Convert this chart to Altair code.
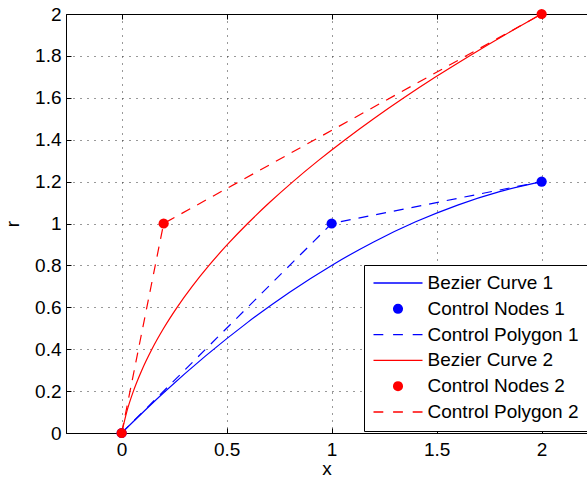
import altair as alt
import pandas as pd

FONT = "Liberation Sans"

# ---- data ----
curve1_x = [0.0, 0.2, 0.4, 0.6, 0.8, 1.0, 1.2, 1.4, 1.6, 1.8, 2.0]
curve1_y = [0.0, 0.192, 0.368, 0.528, 0.672, 0.8, 0.912, 1.008, 1.088, 1.152, 1.2]
nodes1_x = [0.0, 1.0, 2.0]
nodes1_y = [0.0, 1.0, 1.2]

curve2_x = [0.0, 0.024, 0.056, 0.096, 0.144, 0.2, 0.264, 0.336, 0.416, 0.504, 0.6,
            0.704, 0.816, 0.936, 1.064, 1.2, 1.344, 1.496, 1.656, 1.824, 2.0]
curve2_y = [0.0, 0.1, 0.2, 0.3, 0.4, 0.5, 0.6, 0.7, 0.8, 0.9, 1.0,
            1.1, 1.2, 1.3, 1.4, 1.5, 1.6, 1.7, 1.8, 1.9, 2.0]
nodes2_x = [0.0, 0.2, 2.0]
nodes2_y = [0.0, 1.0, 2.0]

series_names = ["Bezier Curve 1", "Control Nodes 1", "Control Polygon 1",
                "Bezier Curve 2", "Control Nodes 2", "Control Polygon 2"]
series_colors = ["#0000ff", "#0000ff", "#0000ff", "#ff0000", "#ff0000", "#ff0000"]

x_ticks = [0, 0.5, 1, 1.5, 2]
y_ticks = [0, 0.2, 0.4, 0.6, 0.8, 1, 1.2, 1.4, 1.6, 1.8, 2]

# legend glyphs (solid line, dot drawn as concentric rings, dashed line)
def ring(r):
    return f"M{-r},0A{r},{r},0,1,1,{r},0A{r},{r},0,1,1,{-r},0Z"
LINE = "M-1,0H1"
DOT = ring(0.18) + ring(0.135) + ring(0.09) + ring(0.045) + "M-0.02,0H0.02"
DASH = "M-1,0H-0.6M-0.2,0H0.2M0.6,0H1"
series_shapes = [LINE, DOT, DASH, LINE, DOT, DASH]

rows = []
def add(name, xs, ys):
    for i, (a, b) in enumerate(zip(xs, ys)):
        rows.append({"series": name, "x": a, "y": b, "order": i})

add(series_names[0], curve1_x, curve1_y)
add(series_names[1], nodes1_x, nodes1_y)
add(series_names[2], nodes1_x, nodes1_y)
add(series_names[3], curve2_x, curve2_y)
add(series_names[4], nodes2_x, nodes2_y)
add(series_names[5], nodes2_x, nodes2_y)
df = pd.DataFrame(rows)

xs = alt.Scale(domain=[-0.265, 2.216], nice=False, zero=False)
ys = alt.Scale(domain=[0, 2], nice=False, zero=False)

FS = 19
common_label = dict(labelFont=FONT, labelFontSize=FS, labelColor="black",
                    labelFlush=False, labelOverlap=False, format="~g")

GRID = dict(grid=True, gridColor="#333333", gridDash=[1, 6], gridWidth=1, gridOpacity=1)

ax_x_main = alt.Axis(orient="bottom", values=x_ticks, ticks=False,
                     domain=True, domainColor="black", domainWidth=1,
                     labelPadding=7, title="x", titleFont=FONT, titleFontSize=FS,
                     titleFontWeight="normal", titleColor="black", titlePadding=0,
                     **GRID, **common_label)
ax_y_main = alt.Axis(orient="left", values=y_ticks, ticks=False,
                     domain=True, domainColor="black", domainWidth=1,
                     labelPadding=5, title="r", titleFont=FONT, titleFontSize=FS,
                     titleFontWeight="normal", titleColor="black", titlePadding=12,
                     **GRID, **common_label)
ax_x_tick_bottom = alt.Axis(orient="bottom", offset=-5, values=x_ticks, grid=False,
                            ticks=True, tickSize=5, tickColor="black", tickWidth=1,
                            domain=False, labels=False, title=None)
ax_y_tick_left = alt.Axis(orient="left", offset=-5, values=y_ticks, grid=False,
                          ticks=True, tickSize=5, tickColor="black", tickWidth=1,
                          domain=False, labels=False, title=None)
ax_x_tick_top = alt.Axis(orient="top", offset=-5, values=x_ticks, grid=False,
                         ticks=True, tickSize=5, tickColor="black", tickWidth=1,
                         domain=False, labels=False, title=None)
ax_x_top_frame = alt.Axis(orient="top", values=x_ticks, grid=False, ticks=False,
                          domain=True, domainColor="black", domainWidth=1,
                          labels=False, title=None)

base = alt.Chart(df)

def sel(name):
    return base.transform_filter(alt.datum.series == name)

curve1 = sel(series_names[0]).mark_line(color="#0000ff", strokeWidth=1.2, interpolate="monotone").encode(
    x=alt.X("x:Q", scale=xs, axis=ax_x_main),
    y=alt.Y("y:Q", scale=ys, axis=ax_y_main),
    order="order:Q")
curve2 = sel(series_names[3]).mark_line(color="#ff0000", strokeWidth=1.2, interpolate="monotone").encode(
    x=alt.X("x:Q", scale=xs, axis=ax_x_tick_bottom),
    y=alt.Y("y:Q", scale=ys, axis=ax_y_tick_left),
    order="order:Q")
poly1 = sel(series_names[2]).mark_line(color="#0000ff", strokeWidth=1.2, strokeDash=[10, 8]).encode(
    x=alt.X("x:Q", scale=xs, axis=ax_x_tick_top),
    y=alt.Y("y:Q", scale=ys, axis=None),
    order="order:Q")
poly2 = sel(series_names[5]).mark_line(color="#ff0000", strokeWidth=1.2, strokeDash=[10, 8]).encode(
    x=alt.X("x:Q", scale=xs, axis=ax_x_top_frame),
    y=alt.Y("y:Q", scale=ys, axis=None),
    order="order:Q")
nodes1 = sel(series_names[1]).mark_circle(color="#0000ff", size=105, opacity=1).encode(
    x=alt.X("x:Q", scale=xs, axis=None),
    y=alt.Y("y:Q", scale=ys, axis=None))
nodes2 = sel(series_names[4]).mark_circle(color="#ff0000", size=105, opacity=1).encode(
    x=alt.X("x:Q", scale=xs, axis=None),
    y=alt.Y("y:Q", scale=ys, axis=None))

leg = alt.Legend(
    title=None, orient="none", legendX=298, legendY=251,
    symbolSize=2401, clipHeight=19, rowPadding=5.8, padding=8.5,
    labelOffset=4, labelFont=FONT, labelFontSize=FS, labelColor="black", labelLimit=0,
    strokeColor="black", fillColor="white", symbolOpacity=1, cornerRadius=0,
    symbolStrokeWidth=1.3,
)

legend_layer = base.mark_point(filled=False, opacity=0, strokeWidth=1.3).encode(
    x=alt.X("x:Q", scale=xs, axis=None),
    y=alt.Y("y:Q", scale=ys, axis=None),
    color=alt.Color("series:N", sort=series_names,
                    scale=alt.Scale(domain=series_names, range=series_colors), legend=leg),
    shape=alt.Shape("series:N", sort=series_names,
                    scale=alt.Scale(domain=series_names, range=series_shapes), legend=leg),
)

chart = alt.layer(
    curve1, curve2, poly1, poly2, nodes1, nodes2, legend_layer
).resolve_axis(
    x="independent", y="independent"
).properties(
    width=521, height=419,
    padding={"left": 66, "top": 14, "right": 0, "bottom": 46},
    autosize=alt.AutoSizeParams(type="none"),
    background="white",
).configure_view(stroke=None).configure(font=FONT)

chart.save("out.html", embed_options={"renderer": "svg", "actions": False})
